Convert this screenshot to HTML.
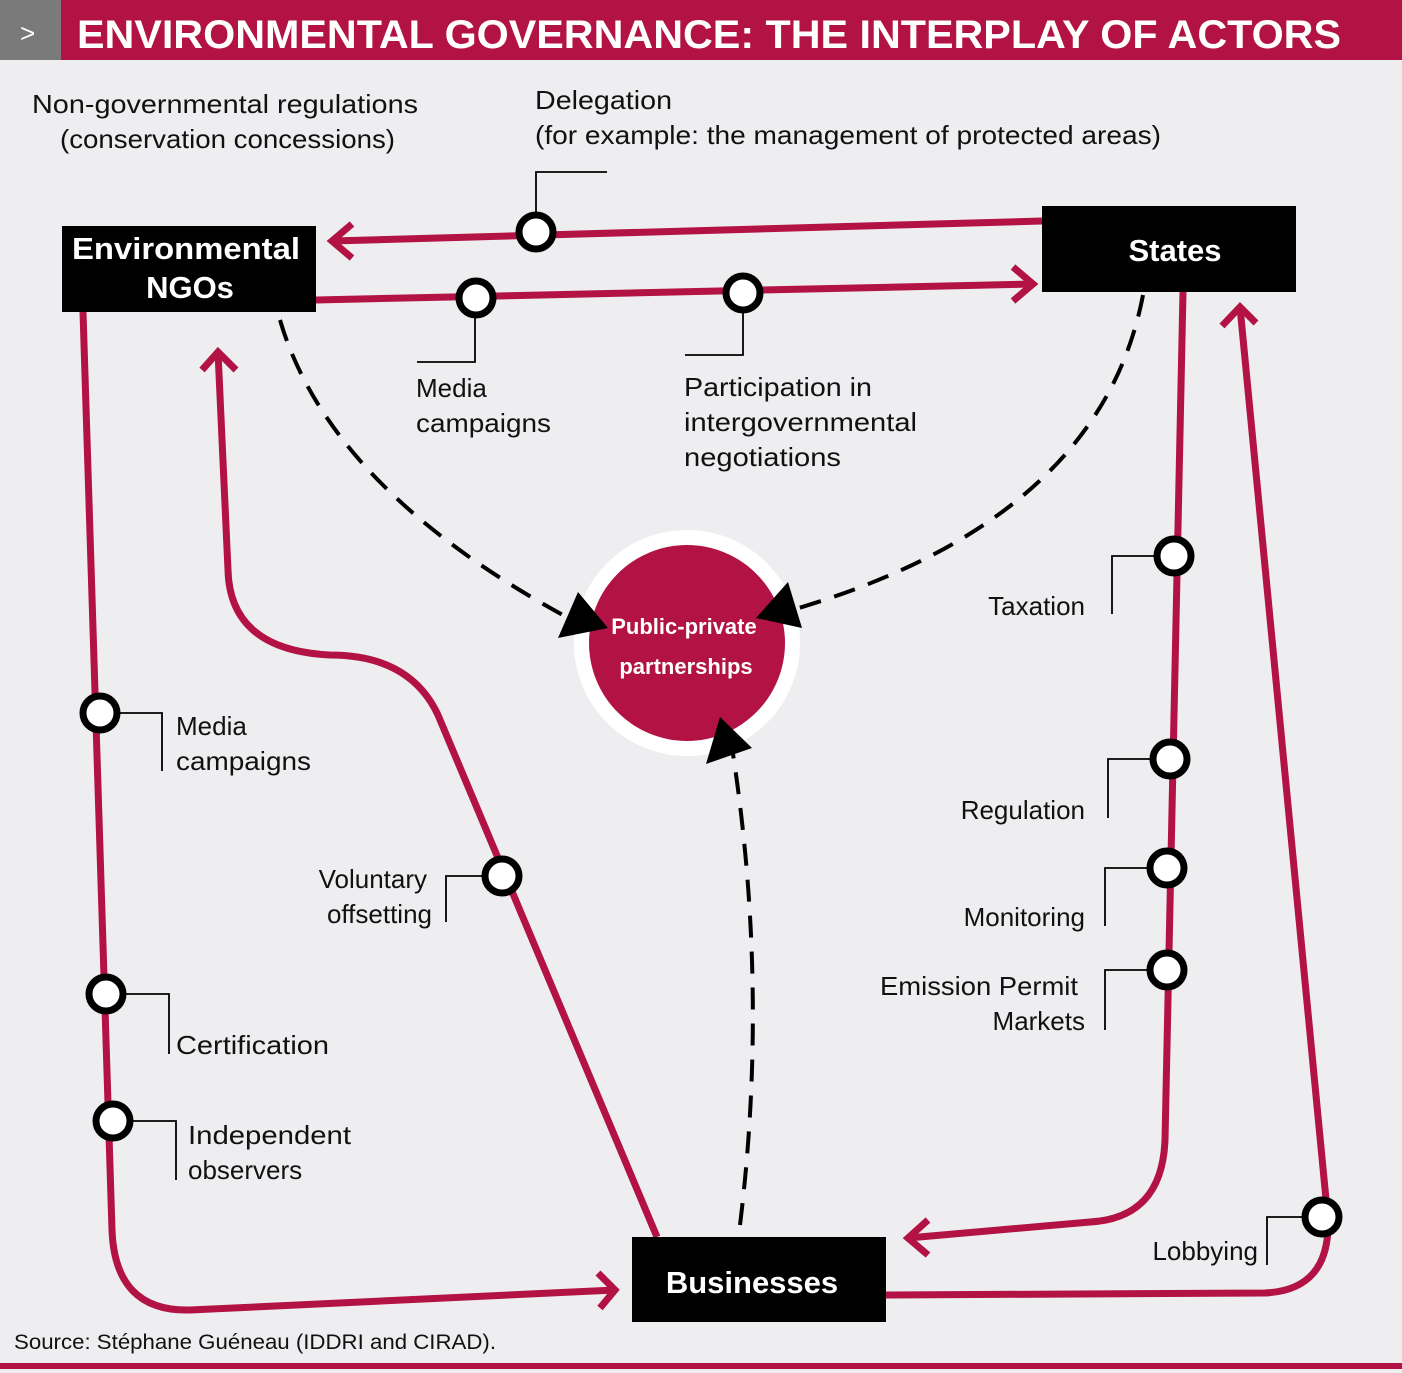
<!DOCTYPE html>
<html><head><meta charset="utf-8"><style>
html,body{margin:0;padding:0;background:#eeeef0;}
svg{display:block;font-family:"Liberation Sans",sans-serif;}
</style></head><body>
<svg width="1402" height="1373" viewBox="0 0 1402 1373" xmlns="http://www.w3.org/2000/svg">
<rect width="1402" height="1373" fill="#eeeef0"/>
<rect x="0" y="0" width="1402" height="60" fill="#b31245"/>
<rect x="0" y="0" width="61" height="60" fill="#7a7a7a"/>
<text x="20" y="42" fill="#fff" font-size="26">&gt;</text>
<text x="77" y="48" fill="#fff" font-size="40" font-weight="bold" textLength="1264" lengthAdjust="spacingAndGlyphs">ENVIRONMENTAL GOVERNANCE: THE INTERPLAY OF ACTORS</text>
<rect x="0" y="1363" width="1402" height="6" fill="#b31245"/>

<g fill="none" stroke="#b31245" stroke-width="7">
<path d="M1042 221 L332 241"/>
<path d="M352 224 L332 241 L352 258"/>
<path d="M316 300 L1033 284"/>
<path d="M1013 267 L1033 284 L1013 301"/>
<path d="M83 312 L112 1230 Q115 1312 190 1310 L615 1290"/>
<path d="M598 1273 L615 1290 L600 1308"/>
<path d="M657 1237 L438 715 Q410 655 330 655 Q230 650 228 570 L218 352"/>
<path d="M202 370 L218 352 L236 370"/>
<path d="M1183 292 L1165 1140 Q1162 1218 1090 1222 L908 1238"/>
<path d="M928 1220 L908 1238 L928 1255"/>
<path d="M886 1295 L1265 1293 Q1330 1290 1328 1220 L1240 307"/>
<path d="M1222 326 L1240 307 L1256 323"/>
</g>

<g fill="none" stroke="#000" stroke-width="4" stroke-dasharray="22,14">
<path d="M280 320 Q330 490 572 620"/>
<path d="M1143 295 Q1100 520 792 610"/>
<path d="M740 1225 Q770 980 730 735"/>
</g>

<circle cx="687" cy="643" r="113" fill="#fff"/>
<circle cx="687" cy="643" r="98" fill="#b31245"/>
<g fill="#000">
<polygon points="558,638 578,592 608,628"/>
<polygon points="756,618 788,582 802,628"/>
<polygon points="706,764 720,717 752,748"/>
</g>
<text x="684" y="634" fill="#fff" font-size="22" font-weight="bold" text-anchor="middle">Public-private</text>
<text x="686" y="674" fill="#fff" font-size="22" font-weight="bold" text-anchor="middle">partnerships</text>

<g fill="none" stroke="#000" stroke-width="1.8">
<path d="M536 214 L536 172 L607 172"/>
<path d="M475 312 L475 362 L417 362"/>
<path d="M743 310 L743 355 L685 355"/>
<path d="M1157 556 L1112 556 L1112 614"/>
<path d="M1152 759 L1108 759 L1108 818"/>
<path d="M1150 868 L1105 868 L1105 926"/>
<path d="M1150 970 L1105 970 L1105 1030"/>
<path d="M1305 1217 L1267 1217 L1267 1265"/>
<path d="M117 713 L162 713 L162 771"/>
<path d="M123 994 L169 994 L169 1054"/>
<path d="M130 1121 L176 1121 L176 1180"/>
<path d="M485 876 L446 876 L446 922"/>
</g>

<g fill="#fff" stroke="#000" stroke-width="7">
<circle cx="536" cy="232" r="17"/>
<circle cx="476" cy="298" r="17"/>
<circle cx="743" cy="293" r="17"/>
<circle cx="100" cy="713" r="17"/>
<circle cx="106" cy="994" r="17"/>
<circle cx="113" cy="1121" r="17"/>
<circle cx="502" cy="876" r="17"/>
<circle cx="1174" cy="556" r="17"/>
<circle cx="1170" cy="759" r="17"/>
<circle cx="1167" cy="868" r="17"/>
<circle cx="1167" cy="970" r="17"/>
<circle cx="1322" cy="1217" r="17"/>
</g>

<rect x="62" y="226" width="254" height="86" fill="#000"/>
<text x="186" y="259" fill="#fff" font-size="31" font-weight="bold" text-anchor="middle" textLength="228" lengthAdjust="spacingAndGlyphs">Environmental</text>
<text x="190" y="298" fill="#fff" font-size="31" font-weight="bold" text-anchor="middle">NGOs</text>
<rect x="1042" y="206" width="254" height="86" fill="#000"/>
<text x="1175" y="261" fill="#fff" font-size="31" font-weight="bold" text-anchor="middle">States</text>
<rect x="632" y="1237" width="254" height="85" fill="#000"/>
<text x="752" y="1293" fill="#fff" font-size="31" font-weight="bold" text-anchor="middle">Businesses</text>

<g fill="#111" font-size="26">
<text x="32" y="113" textLength="386" lengthAdjust="spacingAndGlyphs">Non-governmental regulations</text>
<text x="60" y="148" textLength="335" lengthAdjust="spacingAndGlyphs">(conservation concessions)</text>
<text x="535" y="109" textLength="137" lengthAdjust="spacingAndGlyphs">Delegation</text>
<text x="535" y="144" textLength="626" lengthAdjust="spacingAndGlyphs">(for example: the management of protected areas)</text>
<text x="416" y="397">Media</text>
<text x="416" y="432" textLength="135" lengthAdjust="spacingAndGlyphs">campaigns</text>
<text x="684" y="396" textLength="188" lengthAdjust="spacingAndGlyphs">Participation in</text>
<text x="684" y="431" textLength="233" lengthAdjust="spacingAndGlyphs">intergovernmental</text>
<text x="684" y="466" textLength="157" lengthAdjust="spacingAndGlyphs">negotiations</text>
<text x="1085" y="615" text-anchor="end">Taxation</text>
<text x="1085" y="819" text-anchor="end">Regulation</text>
<text x="1085" y="926" text-anchor="end">Monitoring</text>
<text x="1078" y="995" text-anchor="end" textLength="198" lengthAdjust="spacingAndGlyphs">Emission Permit</text>
<text x="1085" y="1030" text-anchor="end">Markets</text>
<text x="1258" y="1260" text-anchor="end">Lobbying</text>
<text x="176" y="735">Media</text>
<text x="176" y="770" textLength="135" lengthAdjust="spacingAndGlyphs">campaigns</text>
<text x="427" y="888" text-anchor="end">Voluntary</text>
<text x="432" y="923" text-anchor="end">offsetting</text>
<text x="176" y="1054" textLength="153" lengthAdjust="spacingAndGlyphs">Certification</text>
<text x="188" y="1144" textLength="163" lengthAdjust="spacingAndGlyphs">Independent</text>
<text x="188" y="1179">observers</text>
</g>
<text x="14" y="1349" fill="#111" font-size="21" textLength="482" lengthAdjust="spacingAndGlyphs">Source: Stéphane Guéneau (IDDRI and CIRAD).</text>
</svg>
</body></html>
